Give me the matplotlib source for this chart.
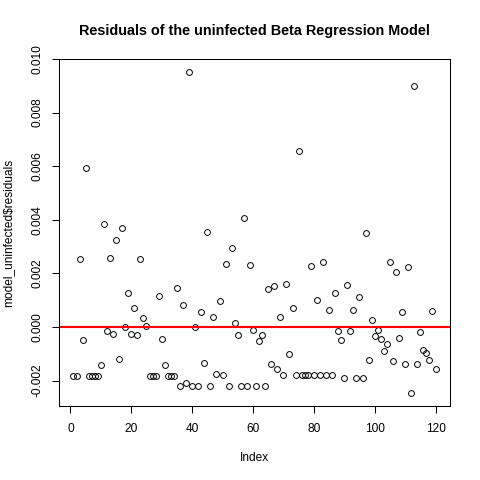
import numpy as np
import matplotlib
matplotlib.use("Agg")
import matplotlib.pyplot as plt

plt.rcParams['font.family'] = ['Liberation Sans', 'DejaVu Sans']

# residuals (x 1e-3), index 1..120
residuals_e3 = [
    -1.83, -1.83, 2.53, -0.47, 5.95, -1.83, -1.83, -1.83, -1.83, -1.42,
    3.85, -0.16, 2.58, -0.26, 3.25, -1.18, 3.71, -0.01, 1.28, -0.25,
    0.71, -0.30, 2.53, 0.35, 0.04, -1.83, -1.83, -1.83, 1.15, -0.46,
    -1.43, -1.83, -1.83, -1.83, 1.44, -2.20, 0.81, -2.09, 9.51, -2.20,
    -0.01, -2.20, 0.57, -1.34, 3.54, -2.20, 0.38, -1.76, 0.97, -1.81,
    2.35, -2.20, 2.94, 0.16, -0.29, -2.20, 4.05, -2.20, 2.32, -0.12,
    -2.20, -0.51, -0.30, -2.20, 1.40, -1.37, 1.53, -1.56, 0.36, -1.79,
    1.59, -1.02, 0.71, -1.79, 6.55, -1.79, -1.79, -1.79, 2.28, -1.79,
    1.01, -1.79, 2.42, -1.79, 0.62, -1.79, 1.27, -0.14, -0.50, -1.90,
    1.58, -0.16, 0.65, -1.90, 1.12, -1.90, 3.50, -1.22, 0.27, -0.35,
    -0.11, -0.46, -0.89, -0.62, 2.42, -1.28, 2.05, -0.42, 0.57, -1.38,
    2.23, -2.47, 8.99, -1.39, -0.17, -0.87, -0.96, -1.25, 0.58, -1.56,
]
residuals = np.array(residuals_e3) * 1e-3
index = np.arange(1, len(residuals) + 1)

x_ticks = [0, 20, 40, 60, 80, 100, 120]
y_ticks = [-0.002, 0.000, 0.002, 0.004, 0.006, 0.008, 0.010]
y_ticklabels = ["-0.002", "0.000", "0.002", "0.004", "0.006", "0.008", "0.010"]

W = H = 480
fig = plt.figure(figsize=(4.8, 4.8), dpi=100)
ax = fig.add_axes([59 / W, (H - 406) / H, (450 - 59) / W, (406 - 59) / H])

ax.plot(index, residuals, linestyle='none', marker='o', markersize=4.2,
        markerfacecolor='none', markeredgecolor='black', markeredgewidth=0.7)
ax.margins(x=0.04, y=0.04)
ax.axhline(0, color='#ff0000', linewidth=1.5)

ax.set_xticks(x_ticks)
ax.set_yticks(y_ticks)
ax.set_yticklabels(y_ticklabels, rotation=90, va='center')
ax.tick_params(axis='both', direction='out', length=5, width=0.75,
               labelsize=8.6, colors='black')
ax.tick_params(axis='x', pad=7)
ax.tick_params(axis='y', pad=6.5)
for s in ax.spines.values():
    s.set_linewidth(0.75)
    s.set_color('black')

ax.set_title("Residuals of the uninfected Beta Regression Model",
             fontsize=10.4, fontweight='bold', pad=17.5)
ax.set_xlabel("Index", fontsize=8.6, labelpad=12.5)
ax.set_ylabel(r"model_uninfected\$residuals", fontsize=8.6, labelpad=12)

fig.savefig("out.png", dpi=100)
